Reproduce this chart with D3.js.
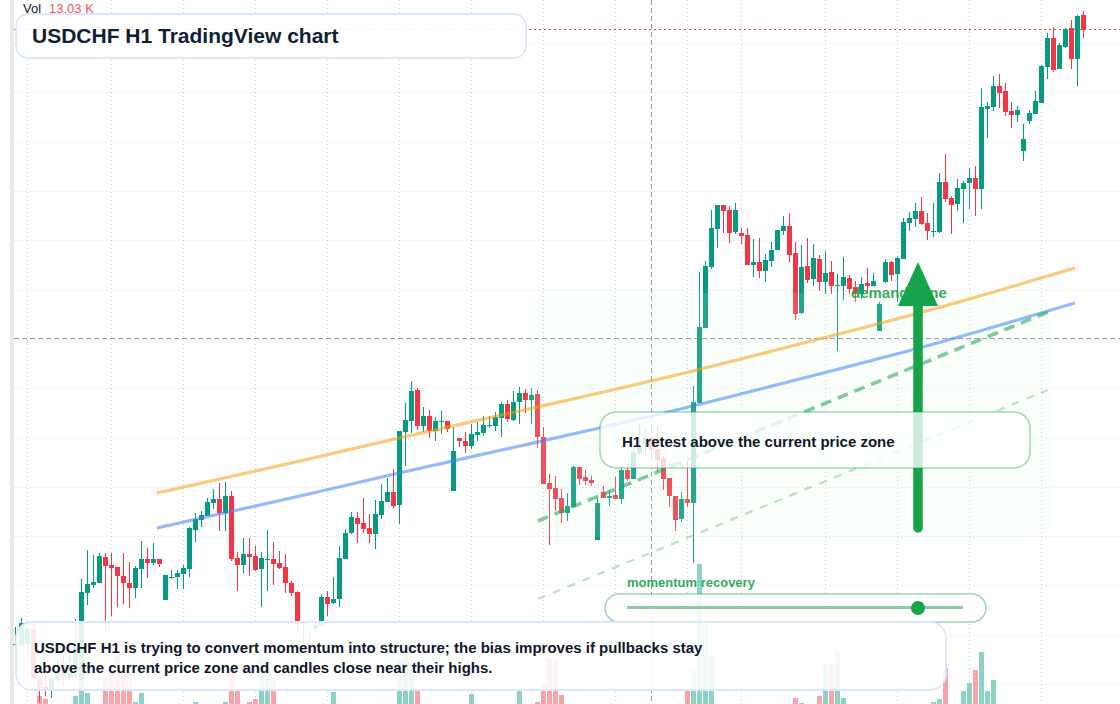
<!DOCTYPE html>
<html><head><meta charset="utf-8">
<script src="https://d3js.org/d3.v7.min.js"></script>
<style>
html,body{margin:0;padding:0;background:#fff;overflow:hidden}
svg{display:block;font-family:"Liberation Sans",Arial,sans-serif}
</style></head><body>
<svg id="c" width="1120" height="704"></svg>
<script>
// Prices in points above the bottom of the visible range
const opens=[59,59,60,75,26,17,14,24,41,26,36,24,111,119,121,147,139,137,128,121,116,135,145,141,145,104,126,127,130,135,174,184,188,201,205,191,208,146,139,150,148,135,144,145,141,137,121,112,80,61,76,78,107,101,105,145,171,186,181,176,170,189,202,212,199,272,283,314,278,288,273,282,283,213,266,263,258,269,271,278,278,286,300,284,302,311,304,310,267,221,216,206,191,197,237,227,224,164,212,206,209,205,234,225,251,260,266,255,245,226,208,185,205,201,301,376,437,475,499,494,472,471,469,439,442,433,443,454,473,478,451,391,438,425,445,422,432,418,418,426,417,410,421,418,373,422,442,430,445,481,485,493,481,472,472,522,506,500,515,521,526,515,595,597,618,613,593,589,553,583,590,601,637,666,635,657,676,645,689];
const highs=[77,86,79,81,28,31,29,44,48,49,85,125,154,149,151,151,151,137,151,142,138,163,156,161,145,129,134,134,139,177,191,193,206,215,221,222,213,152,166,166,158,152,174,162,153,150,123,113,83,72,81,110,113,127,158,175,192,192,206,190,204,220,226,235,273,301,323,316,297,294,287,293,283,277,266,272,280,282,288,288,292,302,304,313,317,315,316,314,277,230,228,215,211,238,237,234,228,206,218,214,227,237,240,254,279,274,278,278,248,226,208,212,243,318,432,443,494,499,499,498,501,476,476,465,466,450,462,474,488,491,462,459,466,460,449,453,443,430,447,429,423,427,436,431,402,445,443,448,486,492,501,507,491,501,531,550,508,525,523,536,538,616,602,628,630,621,602,598,580,594,613,639,671,677,661,676,684,689,693];
const lows=[57,57,46,26,2,8,6,22,17,24,26,20,99,116,121,71,88,97,100,96,106,116,126,139,137,104,125,115,115,127,162,177,188,195,173,173,143,113,131,128,133,97,113,119,135,111,108,72,57,51,72,77,88,100,97,145,170,161,171,161,155,185,202,196,180,238,271,274,272,266,263,270,272,213,257,251,255,263,268,276,273,267,282,283,280,291,280,256,220,159,193,181,183,197,219,219,218,164,206,198,205,200,223,225,249,249,248,232,214,197,173,182,197,141,301,376,435,456,471,461,470,460,439,427,426,422,437,454,469,442,384,390,421,418,413,410,410,353,404,410,402,405,412,418,373,421,423,402,445,473,477,479,464,467,471,502,470,493,481,495,488,495,566,593,596,588,576,582,543,580,590,601,625,632,635,656,635,618,666];
const closes=[60,81,75,26,16,14,25,32,27,39,57,112,120,122,148,138,136,128,121,116,136,145,141,145,140,129,127,131,136,176,185,189,202,205,191,208,145,139,150,147,134,146,145,140,136,121,111,80,83,52,79,107,100,105,146,171,187,180,175,170,190,203,212,198,273,284,313,278,288,273,283,283,275,253,263,258,270,272,279,279,287,300,285,302,311,304,309,267,220,215,205,191,198,237,225,223,221,201,206,208,205,234,225,252,257,266,254,244,225,208,184,205,201,302,377,438,476,499,493,471,494,468,439,442,433,444,454,474,478,449,390,437,424,446,422,431,418,419,427,415,410,420,418,423,400,442,429,446,482,486,493,480,473,473,522,505,499,516,521,526,515,597,598,618,611,592,589,594,565,591,603,638,666,634,659,675,645,688,674];
const volumeCandles=[4,5,10,11,12,15,16,17,18,19,20,21,30,35,36,37,39,40,41,42,43,53,64,65,66,67,76,84,87,88,89,90,91,112,113,114,115,116,130,131,134,135,136,137,138,153,154,155,158,159,160,161,162,163];
const volumes=[8,5,8,24,11,27,31,49,31,32,2,11,2,2,32,14,2,5,47,37,24,12,45,57,32,13,10,13,2,19,46,45,9,14,33,140,79,48,6,1,8,39,41,53,6,2,5,36,13,21,34,52,13,24];
const gridPrices=[661,612,562,513,464,414,365,316,266,217,168,119,69,20];
const gridCandles=[2,16,28,40,52,64,76,88,100,112,121,135,147,159,171];
const trendCandles=[23.6,47.45,63.95,84.1,113.6,127.45,152.45,176.6];
const resistance=[211,243,266,293,334,355,394,436];
const support=[176,208,231,258,299,320,359,401];
const channelCandles=[87.1,172.1];
const channelUpper=[183,392];
const channelLower=[105,314];
const lastPrice=675, crossPrice=365, crossCandle=106;
const zoneCandles=[85.3,172.7], zonePrices=[411,167];
const arrowCandle=150.45, arrowPrices=[172,398,442];
const titleText="USDCHF H1 TradingView chart";
const noteLines=["USDCHF H1 is trying to convert momentum into structure; the bias improves if pullbacks stay","above the current price zone and candles close near their highs."];

const W=1120,H=704;
const svg=d3.select("#c");
const x=d3.scaleLinear().domain([0,178]).range([15.3,1083.3]);
const y=d3.scaleLinear().domain([0,704]).range([704,0]);
const v=d3.scaleLinear().domain([0,140]).range([704,564]);
const up="#089981",down="#f23645";
const px=i=>Math.floor(x(i));

svg.append("rect").attr("x",10).attr("y",0).attr("width",4).attr("height",H).attr("fill","#e9e9e9");

// grid
const gy=svg.append("g").attr("transform","translate(14,0)").call(d3.axisLeft(y).tickValues(gridPrices).tickSize(-1106).tickFormat(""));
const gx=svg.append("g").call(d3.axisBottom(x).tickValues(gridCandles).tickSize(H).tickFormat(""));
gx.selectAll(".tick").attr("transform",d=>`translate(${px(d)+.5},0)`);
[gy,gx].forEach(g=>{g.select(".domain").remove();});
gy.selectAll("line").attr("stroke","#dadada").attr("stroke-width",1).attr("stroke-dasharray","1 3");
gx.selectAll("line").attr("stroke","#d2d2d2").attr("stroke-width",1).attr("stroke-dasharray","1 3").attr("x1",0).attr("x2",0);
gy.selectAll(".tick").attr("transform",d=>`translate(0,${Math.round(y(d))+.5})`);

// volume
svg.append("g").attr("shape-rendering","crispEdges").selectAll("rect").data(volumes).join("rect")
 .attr("x",(d,i)=>px(volumeCandles[i])-2).attr("width",5)
 .attr("y",d=>v(d)).attr("height",d=>v(0)-v(d))
 .attr("fill",(d,i)=>{const k=volumeCandles[i];return closes[k]>=opens[k]?up:down}).attr("fill-opacity",.45);

// last price and crosshair
svg.append("line").attr("x1",14).attr("x2",W).attr("y1",y(lastPrice)+.5).attr("y2",y(lastPrice)+.5).attr("stroke",down).attr("stroke-width",1).attr("stroke-dasharray","2 3");
svg.append("line").attr("x1",14).attr("x2",W).attr("y1",y(crossPrice)-.5).attr("y2",y(crossPrice)-.5).attr("stroke","#9598a1").attr("stroke-width",1).attr("stroke-dasharray","5 3");
svg.append("line").attr("x1",px(crossCandle)+.5).attr("x2",px(crossCandle)+.5).attr("y1",0).attr("y2",H).attr("stroke","#9598a1").attr("stroke-width",1).attr("stroke-dasharray","5 3");

// candles
const cg=svg.append("g").attr("shape-rendering","crispEdges");
const idx=d3.range(opens.length);
const col=i=>closes[i]>=opens[i]?up:down;
cg.selectAll("rect.w").data(idx).join("rect").attr("class","w")
 .attr("x",i=>px(i)).attr("width",1).attr("y",i=>y(highs[i])).attr("height",i=>y(lows[i])-y(highs[i])).attr("fill",col);
cg.selectAll("rect.b").data(idx).join("rect").attr("class","b")
 .attr("x",i=>px(i)-2).attr("width",5)
 .attr("y",i=>y(Math.max(opens[i],closes[i])))
 .attr("height",i=>Math.max(1,Math.abs(opens[i]-closes[i])*(y(0)-y(1))))
 .attr("fill",col);

// zone
svg.append("rect").attr("x",x(zoneCandles[0])).attr("y",y(zonePrices[0])).attr("width",x(zoneCandles[1])-x(zoneCandles[0])).attr("height",y(zonePrices[1])-y(zonePrices[0])).attr("rx",16).attr("fill","#dcfce7").attr("fill-opacity",.14);

// trend lines
const line=d3.line().x(d=>x(d[0])).y(d=>y(d[1])).curve(d3.curveMonotoneX);
const path=(c,p)=>line(c.map((k,i)=>[k,p[i]]));
svg.append("path").attr("d",path(trendCandles,resistance)).attr("fill","none").attr("stroke","#f59e0b").attr("stroke-opacity",.55).attr("stroke-width",3.2);
svg.append("path").attr("d",path(trendCandles,support)).attr("fill","none").attr("stroke","#3b82f6").attr("stroke-opacity",.55).attr("stroke-width",3.2);
svg.append("path").attr("d",path(channelCandles,channelUpper)).attr("fill","none").attr("stroke","#16a34a").attr("stroke-opacity",.55).attr("stroke-width",3.6).attr("stroke-dasharray","11 7");
svg.append("path").attr("d",path(channelCandles,channelLower)).attr("fill","none").attr("stroke","#16a34a").attr("stroke-opacity",.3).attr("stroke-width",2.2).attr("stroke-dasharray","8 8");

// demand label and arrow
svg.append("text").attr("x",851).attr("y",298).attr("font-size",15).attr("font-weight",700).attr("fill","#16a34a").attr("fill-opacity",.9).text("demand zone");
const ax=x(arrowCandle);
svg.append("line").attr("x1",ax).attr("x2",ax).attr("y1",y(arrowPrices[0])-4).attr("y2",y(arrowPrices[1])).attr("stroke","#16a34a").attr("stroke-width",9.5).attr("stroke-linecap","round");
svg.append("path").attr("d",d3.line()([[ax,y(arrowPrices[2])],[ax-20,y(arrowPrices[1])],[ax+20,y(arrowPrices[1])]])+"Z").attr("fill","#16a34a");

// helper card
function card(xx,yy,w,h,r,stroke,fo,sw,so){
 svg.append("rect").attr("x",xx).attr("y",yy).attr("width",w).attr("height",h).attr("rx",r).attr("fill","#fff").attr("fill-opacity",fo).attr("stroke",stroke).attr("stroke-width",sw).attr("stroke-opacity",so);
}
card(600,412,430,56,16,"#16a34a",.78,1.5,.42);
svg.append("text").attr("x",622).attr("y",447).attr("font-size",15).attr("font-weight",700).attr("fill","#0f172a").text("H1 retest above the current price zone");

// momentum
svg.append("text").attr("x",627).attr("y",587).attr("font-size",13).attr("font-weight",700).attr("fill","#16a34a").attr("fill-opacity",.92).text("momentum recovery");
card(605,594,381,28,14,"#16a34a",.88,1.5,.42);
svg.append("line").attr("x1",627).attr("x2",963).attr("y1",607.5).attr("y2",607.5).attr("stroke","#16a34a").attr("stroke-opacity",.52).attr("stroke-width",3);
svg.append("circle").attr("cx",918).attr("cy",608).attr("r",7).attr("fill","#16a34a");

// note
card(16,622,930,68,16,"#dbe7fb",.88,1.8,1);
noteLines.forEach((t,i)=>svg.append("text").attr("x",34).attr("y",653+i*20).attr("font-size",15).attr("font-weight",700).attr("fill","#0f172a").text(t));

// header
svg.append("text").attr("x",23).attr("y",13).attr("font-size",13).attr("fill","#131722").text("Vol");
svg.append("text").attr("x",49).attr("y",13).attr("font-size",13).attr("fill","#f7525f").text("13.03 K");
card(16,14,510,44,12,"#dbe7fb",.9,1.8,1);
svg.append("text").attr("x",32).attr("y",43).attr("font-size",21).attr("font-weight",700).attr("fill","#0f1f33").text(titleText);
</script>
</body></html>
